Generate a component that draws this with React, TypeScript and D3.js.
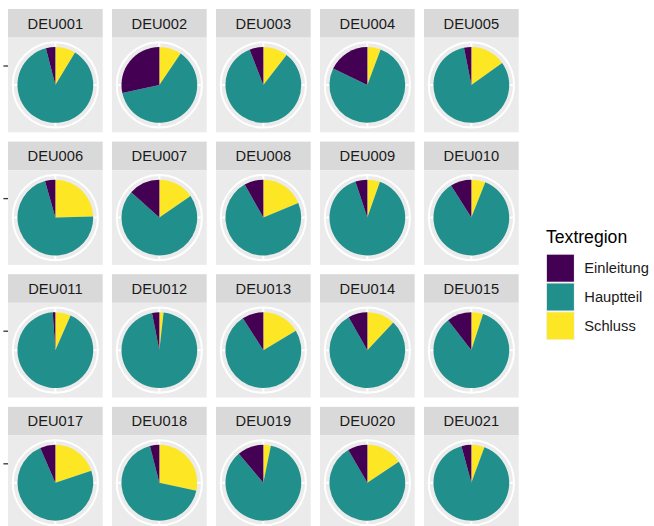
import React from "react";
import * as d3 from "d3";

const panelIds = [
  "DEU001", "DEU002", "DEU003", "DEU004", "DEU005",
  "DEU006", "DEU007", "DEU008", "DEU009", "DEU010",
  "DEU011", "DEU012", "DEU013", "DEU014", "DEU015",
  "DEU017", "DEU018", "DEU019", "DEU020", "DEU021",
];
const einleitung = [0.040, 0.284, 0.059, 0.179, 0.031, 0.044, 0.133, 0.082, 0.051, 0.090,
  0.011, 0.031, 0.091, 0.082, 0.105, 0.065, 0.040, 0.112, 0.084, 0.042];
const hauptteil = [0.873, 0.621, 0.836, 0.764, 0.818, 0.710, 0.713, 0.731, 0.895, 0.850,
  0.923, 0.951, 0.745, 0.798, 0.845, 0.736, 0.676, 0.856, 0.760, 0.902];
const schluss = [0.087, 0.095, 0.105, 0.057, 0.151, 0.246, 0.154, 0.187, 0.054, 0.060,
  0.066, 0.018, 0.164, 0.120, 0.050, 0.199, 0.284, 0.032, 0.156, 0.056];

const regions = ["Einleitung", "Hauptteil", "Schluss"];
const regionColors = ["#440154", "#21908C", "#FDE725"];
const thetaBreaks = [0, 0.25, 0.5, 0.75];

const W = 654, H = 526;
const NCOL = 5;
const x0 = 8, y0 = 9;
const colPitch = 104, rowPitch = 132.6;
const P = 94.7; // panel size
const stripH = 28.6;
const FONT = "'Liberation Sans', Arial, Helvetica, sans-serif";

const color = d3.scaleOrdinal<string, string>().domain(regions).range(regionColors);
const theta = d3.scaleLinear().domain([0, 1]).range([0, 2 * Math.PI]);

export default function App() {
  const rPie = 0.4 * P;
  const rOuter = 0.45 * P;
  const pie = d3.pie<{ k: string; v: number }>().sort(null).value((d) => d.v);
  const arc = d3.arc<d3.PieArcDatum<{ k: string; v: number }>>().innerRadius(0).outerRadius(rPie);

  return (
    <svg width={W} height={H} style={{ position: "absolute", left: 0, top: 0, background: "#fff" }}
      fontFamily={FONT}>
      <rect x={0} y={0} width={W} height={H} fill="#fff" />
      {panelIds.map((id, i) => {
        const col = i % NCOL, row = Math.floor(i / NCOL);
        const px = x0 + col * colPitch;
        const sy = y0 + row * rowPitch;
        const py = sy + stripH;
        const cx = px + P / 2, cy = py + P / 2;
        const slices = pie([
          { k: "Schluss", v: schluss[i] },
          { k: "Hauptteil", v: hauptteil[i] },
          { k: "Einleitung", v: einleitung[i] },
        ]);
        return (
          <g key={id}>
            <rect x={px} y={sy} width={P} height={stripH} fill="#D9D9D9" />
            <text x={px + P / 2} y={sy + stripH / 2} dy="0.36em" textAnchor="middle"
              fontSize={14.7} fill="#1A1A1A">{id}</text>
            <rect x={px} y={py} width={P} height={P} fill="#EBEBEB" />
            <g transform={`translate(${cx},${cy})`}>
              {thetaBreaks.map((b) => {
                const a = theta(b);
                return <line key={b} x1={0} y1={0} x2={rOuter * Math.sin(a)} y2={-rOuter * Math.cos(a)}
                  stroke="#fff" strokeWidth={2} />;
              })}
              <circle r={rOuter} fill="none" stroke="#fff" strokeWidth={2} />
              {slices.map((s) => (
                <path key={s.data.k} d={arc(s) || ""} fill={color(s.data.k)} />
              ))}
            </g>
            {col === 0 && (
              <line x1={px - 4.6} x2={px} y1={cy - 0.2 * P} y2={cy - 0.2 * P} stroke="#333333" strokeWidth={1.3} />
            )}
          </g>
        );
      })}
      <g>
        <text x={546} y={242.5} fontSize={17.6} fill="#000">Textregion</text>
        {regions.map((r, j) => {
          const ky = 253.8 + j * 28.8;
          return (
            <g key={r}>
              <rect x={546} y={ky} width={28.8} height={28.8} fill="#F2F2F2" />
              <rect x={546.9} y={ky + 0.9} width={27} height={27} fill={color(r)} />
              <text x={584.3} y={ky + 14.4} dy="0.36em" fontSize={14.7} fill="#1A1A1A">{r}</text>
            </g>
          );
        })}
      </g>
    </svg>
  );
}
